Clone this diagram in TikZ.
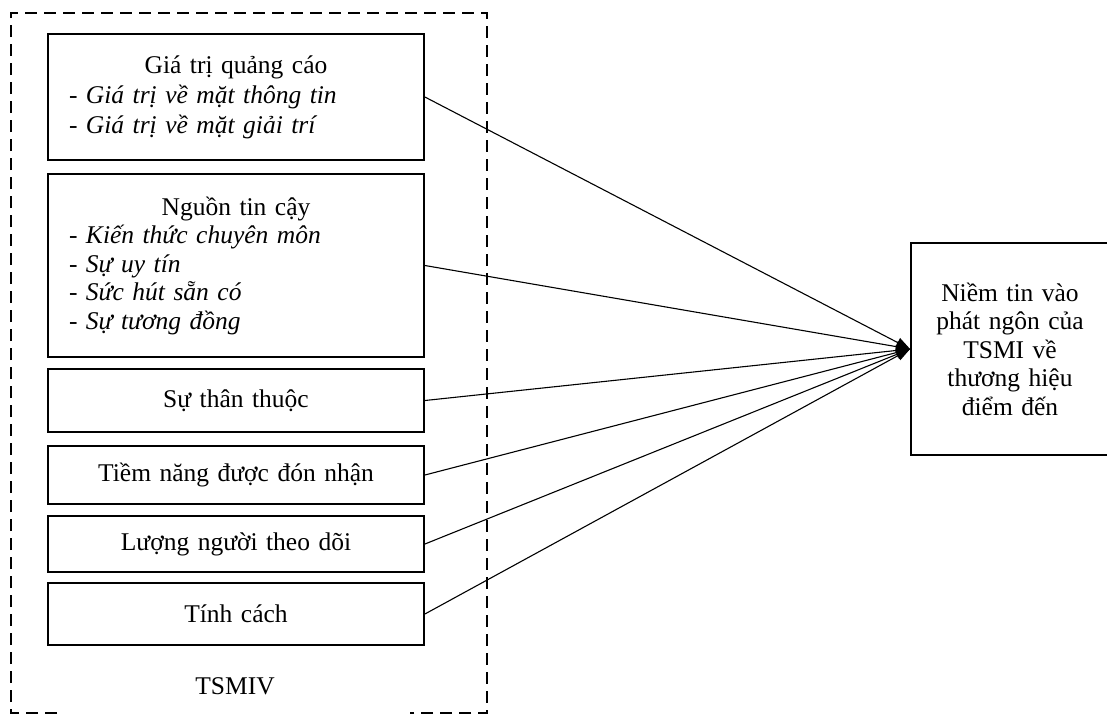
\documentclass[tikz,border=0pt]{standalone}
\usepackage{fontspec}
\setmainfont{Liberation Serif}
\usetikzlibrary{arrows.meta,positioning}

\begin{document}
\begin{tikzpicture}[x=1pt,y=-1pt,
  every node/.style={font=\fontsize{25.5pt}{28.5pt}\selectfont},
  factor/.style={draw,line width=1.8pt,text width=334pt,inner xsep=21pt,inner ysep=0pt},
  outcome/.style={draw,line width=1.8pt,text width=180pt,align=center,inner sep=0pt,
    minimum width=198pt,minimum height=212pt},
  group/.style={line width=1.8pt,dash pattern=on 12pt off 7pt},
  link/.style={line width=1.1pt,-{Triangle[length=14pt,width=10pt]}}]
  \useasboundingbox (0,0) rectangle (1107,713);

  % TSMIV group
  \draw[group] (57,713) -- (11,713) -- (11,13) -- (487,13) -- (487,713) -- (410,713);
  \node (tsmiv) at (235,686) {TSMIV};

  % factor boxes
  \node[factor,align=left,minimum height=126pt] (gtqc) at (236,97)
    {\hfill Giá trị quảng cáo\hfill\null\\[2pt]
     - \textit{Giá trị về mặt thông tin}\\[1pt]
     - \textit{Giá trị về mặt giải trí}};
  \node[factor,align=left,minimum height=183pt] (ntc) at (236,265.5)
    {\hfill Nguồn tin cậy\hfill\null\\
     - \textit{Kiến thức chuyên môn}\\
     - \textit{Sự uy tín}\\
     - \textit{Sức hút sẵn có}\\
     - \textit{Sự tương đồng}};
  \node[factor,align=center,minimum height=63pt] (stt) at (236,400.5) {Sự thân thuộc};
  \node[factor,align=center,minimum height=58pt] (tnd) at (236,475) {Tiềm năng được đón nhận};
  \node[factor,align=center,minimum height=56pt] (lntd) at (236,544) {Lượng người theo dõi};
  \node[factor,align=center,minimum height=62pt] (tc) at (236,614) {Tính cách};

  % outcome
  \node[outcome] (nt) at (1010,349)
    {Niềm tin vào\\ phát ngôn của\\ TSMI về\\ thương hiệu\\ điểm đến};

  % links
  \draw[link] (gtqc.east) -- (nt.west);
  \draw[link] (ntc.east) -- (nt.west);
  \draw[link] (stt.east) -- (nt.west);
  \draw[link] (tnd.east) -- (nt.west);
  \draw[link] (lntd.east) -- (nt.west);
  \draw[link] (tc.east) -- (nt.west);
\end{tikzpicture}
\end{document}
